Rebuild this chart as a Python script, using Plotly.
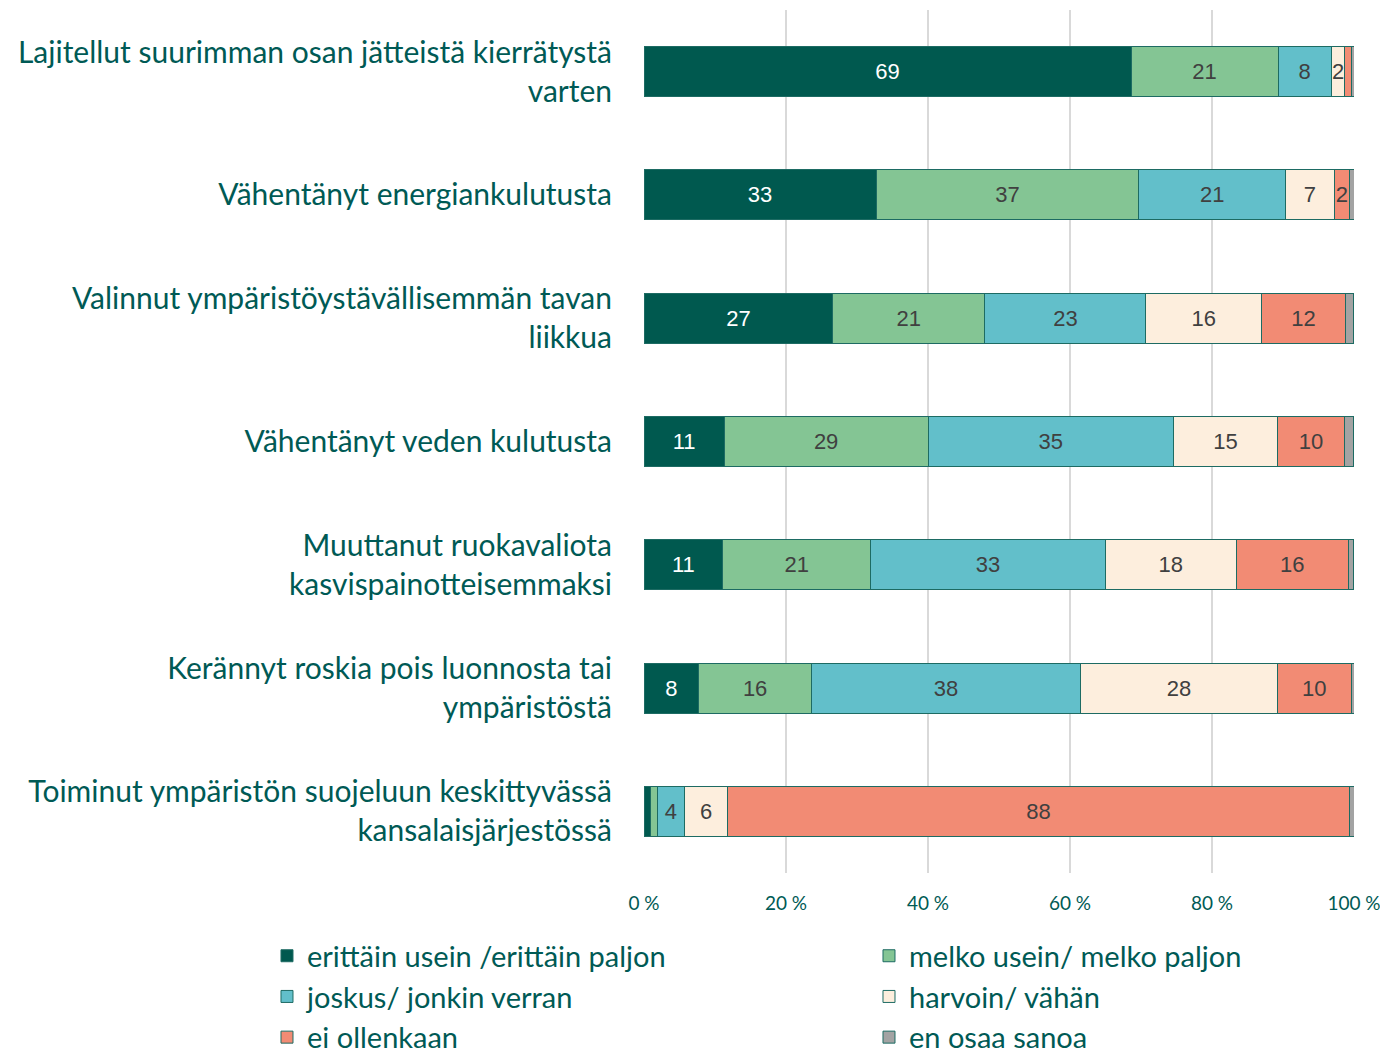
import plotly.graph_objects as go

categories = [
    "Lajitellut suurimman osan jätteistä kierrätystä<br>varten",
    "Vähentänyt energiankulutusta",
    "Valinnut ympäristöystävällisemmän tavan<br>liikkua",
    "Vähentänyt veden kulutusta",
    "Muuttanut ruokavaliota<br>kasvispainotteisemmaksi",
    "Kerännyt roskia pois luonnosta tai<br>ympäristöstä",
    "Toiminut ympäristön suojeluun keskittyvässä<br>kansalaisjärjestössä",
]

series_names = [
    "erittäin usein /erittäin paljon",
    "melko usein/ melko paljon",
    "joskus/ jonkin verran",
    "harvoin/ vähän",
    "ei ollenkaan",
    "en osaa sanoa",
]

erittain = [68.6, 32.7, 26.6, 11.3, 11.1, 7.7, 0.9]
melko = [20.7, 37.0, 21.4, 28.7, 20.8, 15.9, 1.0]
joskus = [7.5, 20.7, 22.7, 34.6, 33.1, 37.9, 3.8]
harvoin = [1.9, 6.8, 16.3, 14.6, 18.4, 27.7, 6.1]
ei = [1.0, 2.2, 11.8, 9.5, 15.8, 10.4, 87.5]
en_osaa = [0.3, 0.6, 1.1, 1.2, 0.7, 0.4, 0.7]

tick_vals = [0, 20, 40, 60, 80, 100]
tick_text = ["0 %", "20 %", "40 %", "60 %", "80 %", "100 %"]

series_values = [erittain, melko, joskus, harvoin, ei, en_osaa]
colors = ["#00594f", "#84c594", "#62bfca", "#fdeedd", "#f28b74", "#a3a3a3"]
text_colors = ["#ffffff", "#404040", "#404040", "#404040", "#404040", "#404040"]

fig = go.Figure()
for name, vals, col, tcol in zip(series_names, series_values, colors, text_colors):
    labels = [str(round(v)) if v >= 1.5 else "" for v in vals]
    fig.add_trace(go.Bar(
        y=categories, x=vals, name=name, orientation="h",
        marker=dict(color=col, line=dict(color="#1d6b63", width=1)),
        text=labels, textposition="inside", insidetextanchor="middle",
        textangle=0, constraintext="none",
        textfont=dict(family="Liberation Sans, Arial", size=22, color=tcol),
        width=0.405,
    ))

teal = "#005a55"
fig.update_layout(
    barmode="stack",
    width=1380, height=1050,
    margin=dict(l=636, r=34, t=2, b=185, autoexpand=False),
    plot_bgcolor="white", paper_bgcolor="white",
    font=dict(family="Lato, Open Sans, sans-serif", color=teal),
    showlegend=True,
    legend=dict(
        orientation="h", x=-0.531, xanchor="left", y=-0.0665, yanchor="top",
        font=dict(size=29, color=teal, family="Lato"),
        entrywidth=557, entrywidthmode="pixels",
        traceorder="normal", itemclick=False,
    ),
    xaxis=dict(
        range=[0, 100], tickvals=tick_vals, ticktext=tick_text,
        showgrid=True, gridcolor="#d9d9d9", gridwidth=2, zeroline=False,
        ticks="outside", ticklen=13, tickcolor="rgba(0,0,0,0)",
        tickfont=dict(size=19, color=teal, family="Lato"),
        showline=False,
    ),
    yaxis=dict(
        autorange="reversed", showgrid=False, zeroline=False,
        ticks="outside", ticklen=25, tickcolor="rgba(0,0,0,0)",
        tickfont=dict(size=30, color=teal, family="Lato"),
    ),
)

fig.write_html("out.html")
